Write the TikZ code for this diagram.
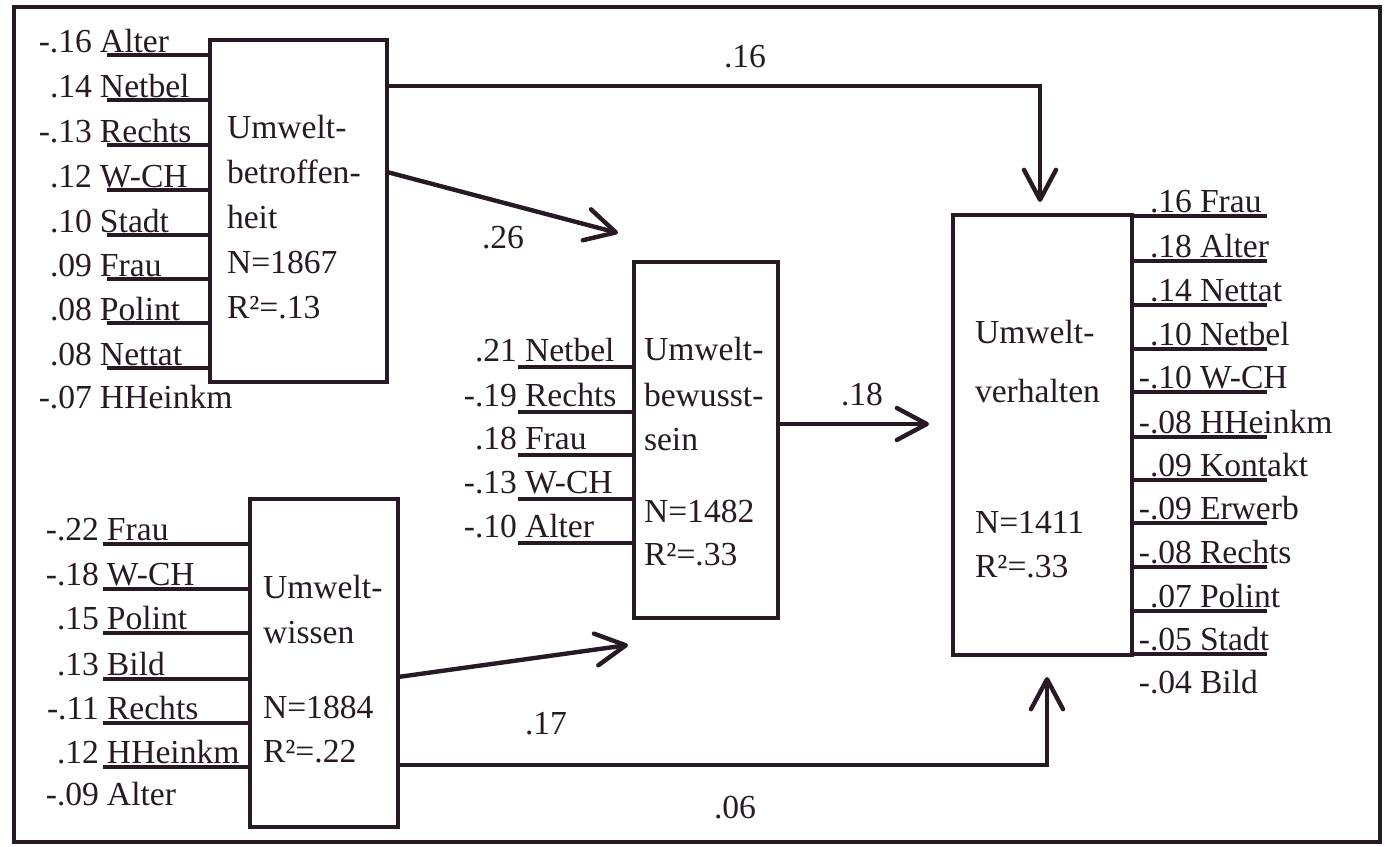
\documentclass[tikz,border=0pt]{standalone}
\usepackage{fontspec}
\setmainfont{Liberation Serif}
\usetikzlibrary{arrows.meta}
\definecolor{ink}{RGB}{40,26,36}
\newcommand{\vlab}[2]{\makebox[40pt][r]{#1}\hspace{4pt}#2}
\begin{document}
\begin{tikzpicture}[x=0.5pt,y=-0.5pt,
  every node/.style={font=\fontsize{16.8pt}{20pt}\selectfont, inner sep=0pt, outer sep=0pt, text=ink},
  box/.style={draw=ink, line width=2.4pt, fill=white, rectangle},
  ln/.style={draw=ink, line width=2.2pt},
  arr/.style={draw=ink, line width=2.2pt, -{Straight Barb[length=15pt,width=16pt,round]}},
  lab/.style={anchor=base west},
  txt/.style={anchor=base west},
  coef/.style={anchor=center}]
\useasboundingbox (0,0) rectangle (1385,846);
\draw[ink, line width=2pt] (14,7) rectangle (1380,842);

% boxes
\node[box, minimum width=88.5pt, minimum height=171pt] (b1) at (298.5,211) {};
\node[box, minimum width=72pt, minimum height=178pt] (b2) at (706,440) {};
\node[box, minimum width=74pt, minimum height=164pt] (b3) at (324,663) {};
\node[box, minimum width=89.5pt, minimum height=220pt] (b4) at (1042.5,435) {};

% box texts
\node[txt] (b1t1) at (227,138) {Umwelt-};
\node[txt] (b1t2) at (227,183) {betroffen-};
\node[txt] (b1t3) at (227,228) {heit};
\node[txt] (b1t4) at (227,273) {N=1867};
\node[txt] (b1t5) at (227,318) {R²=.13};

\node[txt] (b2t1) at (644,360) {Umwelt-};
\node[txt] (b2t2) at (644,406) {bewusst-};
\node[txt] (b2t3) at (644,450) {sein};
\node[txt] (b2t4) at (644,522) {N=1482};
\node[txt] (b2t5) at (644,565) {R²=.33};

\node[txt] (b3t1) at (263,598) {Umwelt-};
\node[txt] (b3t2) at (263,643) {wissen};
\node[txt] (b3t3) at (263,718) {N=1884};
\node[txt] (b3t4) at (263,762) {R²=.22};

\node[txt] (b4t1) at (975,343) {Umwelt-};
\node[txt] (b4t2) at (975,402) {verhalten};
\node[txt] (b4t3) at (975,533) {N=1411};
\node[txt] (b4t4) at (975,577) {R²=.33};

% predictor lines, box 1
\foreach \y in {55,100,145,190,235,279,323,368}{
  \coordinate (p) at (107,\y);
  \draw[ln] (p) -- (p -| b1.west);
}
\foreach \y/\a/\b [count=\i] in {52/-.16/Alter, 97/.14/Netbel, 142/-.13/Rechts, 187/.12/W-CH, 232/.10/Stadt, 276/.09/Frau, 320/.08/Polint, 365/.08/Nettat, 408/-.07/HHeinkm}{
  \node[lab] (l1\i) at (12,\y) {\vlab{\a}{\b}};
}

% predictor lines, box 2
\foreach \y in {367,412,455,499,543}{
  \coordinate (p) at (518,\y);
  \draw[ln] (p) -- (p -| b2.west);
}
\foreach \y/\a/\b [count=\i] in {361/.21/Netbel, 406/-.19/Rechts, 449/.18/Frau, 493/-.13/W-CH, 537/-.10/Alter}{
  \node[lab] (l2\i) at (437,\y) {\vlab{\a}{\b}};
}

% predictor lines, box 3
\foreach \y in {544,589,633,679,723,767}{
  \coordinate (p) at (103,\y);
  \draw[ln] (p) -- (p -| b3.west);
}
\foreach \y/\a/\b [count=\i] in {540/-.22/Frau, 585/-.18/W-CH, 629/.15/Polint, 675/.13/Bild, 719/-.11/Rechts, 763/.12/HHeinkm, 805/-.09/Alter}{
  \node[lab] (l3\i) at (19,\y) {\vlab{\a}{\b}};
}

% predictor lines, box 4
\foreach \y in {216,261,305,349,392,437,480,523,567,611,654}{
  \coordinate (p) at (1267,\y);
  \draw[ln] (p) -- (p -| b4.east);
}
\foreach \y/\a/\b [count=\i] in {212/.16/Frau, 257/.18/Alter, 301/.14/Nettat, 345/.10/Netbel, 388/-.10/W-CH, 433/-.08/HHeinkm, 476/.09/Kontakt, 519/-.09/Erwerb, 563/-.08/Rechts, 607/.07/Polint, 650/-.05/Stadt, 693/-.04/Bild}{
  \node[lab] (l4\i) at (1112,\y) {\vlab{\a}{\b}};
}

% paths between boxes
\coordinate (t16) at (1040,202);
\coordinate (t26) at (618,233);
\coordinate (t18) at (929,424);
\coordinate (t17) at (628,645);
\coordinate (t06) at (1047,677);
\draw[arr] (b1.north east) ++(0,46) -| (t16);
\draw[arr] (b1.north east) ++(0,132) -- (t26);
\draw[arr] (b2.north east) ++(0,162) -- (t18);
\draw[arr] (b3.north east) ++(0,178) -- (t17);
\draw[arr] (b3.south east) ++(0,-62) -| (t06);

\node[coef] (c16) at (745,57) {.16};
\node[coef] (c26) at (503,238) {.26};
\node[coef] (c18) at (862,395) {.18};
\node[coef] (c17) at (546,724) {.17};
\node[coef] (c06) at (735,808) {.06};
\end{tikzpicture}
\end{document}
